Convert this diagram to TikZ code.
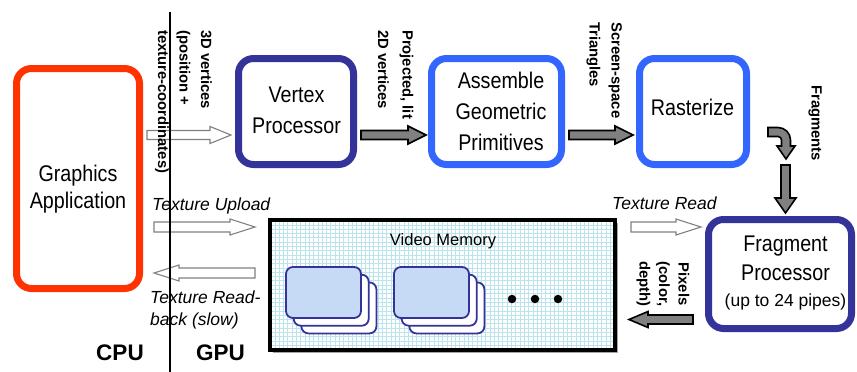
\documentclass[tikz,border=0pt]{standalone}
\usepackage{fontspec}
\setmainfont{Liberation Sans}
\usepackage{graphicx}
\usetikzlibrary{calc,shadows}
\definecolor{appred}{RGB}{255,51,0}
\definecolor{navy}{RGB}{51,51,153}
\definecolor{brightblue}{RGB}{51,102,255}
\definecolor{arrowgray}{RGB}{128,128,128}
\definecolor{gridcol}{RGB}{188,228,236}
\definecolor{cardfill}{RGB}{198,218,246}
% block arrow: #1 style, #2 start, #3 tip, #4 shaft half width, #5 head half width, #6 head length
\newcommand\blockarrow[6]{%
  \coordinate (ba-s) at #2;
  \coordinate (ba-t) at #3;
  \coordinate (ba-b) at ($(ba-t)!#6!(ba-s)$);
  \draw[#1] ($(ba-s)!#4!90:(ba-t)$) -- ($(ba-b)!#4!90:(ba-t)$) -- ($(ba-b)!#5!90:(ba-t)$) -- (ba-t)
     -- ($(ba-b)!#5!-90:(ba-t)$) -- ($(ba-b)!#4!-90:(ba-t)$) -- ($(ba-s)!#4!-90:(ba-t)$) -- cycle;}
\begin{document}
\begin{tikzpicture}[x=1pt,y=-1pt,
  procbox/.style={draw, line width=7pt, rounded corners=15pt, fill=white, inner sep=0pt},
  boxtxt/.style={inner sep=0pt, anchor=base, yscale=1.15},
  rotlbl/.style={inner sep=0pt, rotate=-90, font=\bfseries\fontsize{14.8}{21.5}\selectfont},
  itlbl/.style={inner sep=0pt, anchor=base west, font=\itshape\fontsize{17.5}{22}\selectfont},
  sidelbl/.style={inner sep=0pt, anchor=base, font=\bfseries\fontsize{22.5}{26}\selectfont},
  grayarrow/.style={draw=black, fill=arrowgray, line width=1.6pt, line join=miter},
  hollowarrow/.style={draw=arrowgray, fill=white, line width=1.1pt, line join=miter},
  card/.style={draw=navy, line width=1.8pt, rounded corners=7pt, minimum width=75pt, minimum height=51pt, inner sep=0pt},
  dot/.style={circle, fill=black, inner sep=0pt, minimum size=8.5pt}]
\useasboundingbox (0,0) rectangle (857,372);

% ---------- boxes ----------
\node[procbox, draw=appred, minimum width=123pt, minimum height=220pt] (app) at (78,178.5) {};
\node[procbox, draw=navy, minimum width=115pt, minimum height=106pt] (vp) at (296,111.5) {};
\node[procbox, draw=brightblue, minimum width=130pt, minimum height=106pt] (agp) at (496.5,111.5) {};
\node[procbox, draw=brightblue, minimum width=107pt, minimum height=106pt] (rast) at (693,111.5) {};
\node[procbox, draw=navy, minimum width=143pt, minimum height=109pt] (fp) at (780,274) {};

% box texts
\node[boxtxt, font=\fontsize{19.7}{23.5}\selectfont] (appT) at (78,181)
  {\begin{tabular}[t]{@{}c@{}}Graphics\\Application\end{tabular}};
\node[boxtxt, font=\fontsize{19.7}{27}\selectfont] (vpT) at (296.5,102)
  {\begin{tabular}[t]{@{}c@{}}Vertex\\Processor\end{tabular}};
\node[boxtxt, font=\fontsize{19.7}{27}\selectfont] (agpT) at (501,88)
  {\begin{tabular}[t]{@{}c@{}}Assemble\\Geometric\\Primitives\end{tabular}};
\node[boxtxt, font=\fontsize{19.7}{23.5}\selectfont] (rastT) at (692.5,115) {Rasterize};
\node[boxtxt, font=\fontsize{19.7}{26}\selectfont] (fpT) at (785.5,251)
  {\begin{tabular}[t]{@{}c@{}}Fragment\\Processor\\[-3.4pt]{\fontsize{17.5}{20}\selectfont\scalebox{1}[0.87]{(up to 24 pipes)}}\end{tabular}};

% ---------- video memory ----------
\node[draw=black, line width=4pt, minimum width=345pt, minimum height=130pt, inner sep=0pt,
      fill=white, drop shadow={shadow xshift=2.5pt, shadow yshift=-2.5pt, fill=black!35, opacity=1},
      path picture={\draw[gridcol, line width=0.55pt, step=4.3pt]
        (path picture bounding box.south west) grid (path picture bounding box.north east);}]
  (vm) at (442.5,285) {};
\node[inner sep=0pt, anchor=base, font=\fontsize{16.5}{20}\selectfont] (vmT) at (443,245.5) {Video Memory};

% stacked cards
\node[card, fill=white] (c13) at (338.9,307.9) {};
\node[card, fill=white] (c12) at (331.2,300.2) {};
\node[card, fill=cardfill] (c11) at (323.5,292.5) {};
\node[card, fill=white] (c23) at (446.9,307.9) {};
\node[card, fill=white] (c22) at (439.2,300.2) {};
\node[card, fill=cardfill] (c21) at (431.5,292.5) {};
\node[dot] (d1) at (512,299) {};
\node[dot] (d2) at (535,299) {};
\node[dot] (d3) at (558,299) {};

% ---------- arrows ----------
\blockarrow{hollowarrow}{($(app.east)+(4,-43.5)$)}{($(vp.west)+(-4,23.5)$)}{4.5pt}{8.5pt}{21pt}
\blockarrow{grayarrow}{($(vp.east)+(4,23.5)$)}{($(agp.west)+(-2,23.5)$)}{4.5pt}{9pt}{18pt}
\blockarrow{grayarrow}{($(agp.east)+(4,23.5)$)}{($(rast.west)+(-3,23.5)$)}{4.5pt}{9pt}{18pt}
\blockarrow{hollowarrow}{($(app.east)+(11,48.5)$)}{($(vm.west)+(-13,-58)$)}{5pt}{8pt}{25pt}
\blockarrow{hollowarrow}{($(vm.west)+(-13,-12)$)}{($(app.east)+(11,94.5)$)}{5pt}{8pt}{25pt}
\blockarrow{hollowarrow}{($(vm.east)+(14,-58)$)}{($(fp.west)+(-4,-47)$)}{5pt}{8pt}{25pt}
\blockarrow{grayarrow}{($(fp.west)+(-12,45.5)$)}{($(vm.east)+(12,34.5)$)}{4.5pt}{8pt}{19pt}
% curved fragments arrow
\coordinate (fr0) at ($(rast.east)+(18,20.5)$);
\draw[grayarrow] ($(fr0)+(0,-4.5)$) -- ++(10,0) arc[start angle=90, end angle=0, radius=12.5pt]
  -- ++(0,6) -- ++(4.5,0) -- ++(-9,13) -- ++(-9,-13) -- ++(4.5,0) -- ++(0,-6)
  arc[start angle=0, end angle=90, radius=3.5pt] -- ++(-10,0) -- cycle;
\blockarrow{grayarrow}{($(fp.north)+(5.5,-51)$)}{($(fp.north)+(5.5,-3)$)}{4.5pt}{10.5pt}{15pt}

% ---------- labels ----------
\node[rotlbl, anchor=base west] (lblA) at (201,30)
  {\begin{tabular}[t]{@{}l@{}}3D vertices\\(position +\\texture-coordinates)\end{tabular}};
\node[rotlbl, anchor=base west, font=\bfseries\fontsize{14.8}{24.5}\selectfont] (lblB) at (402.5,30)
  {\begin{tabular}[t]{@{}l@{}}Projected, lit\\2D vertices\end{tabular}};
\node[rotlbl, anchor=base west, font=\bfseries\fontsize{14.8}{22}\selectfont] (lblC) at (611.5,22)
  {\begin{tabular}[t]{@{}l@{}}Screen-space\\Triangles\end{tabular}};
\node[rotlbl, anchor=base west] (lblD) at (811.5,85) {Fragments};
\node[rotlbl, anchor=base, font=\bfseries\fontsize{14.8}{19.5}\selectfont] (lblE) at (678.5,284)
  {\begin{tabular}[t]{@{}c@{}}Pixels\\(color,\\depth)\end{tabular}};

\node[itlbl] (lblUp) at (152,210) {Texture Upload};
\node[itlbl] (lblRb) at (150,303) {\begin{tabular}[t]{@{}l@{}}Texture Read-\\back (slow)\end{tabular}};
\node[itlbl] (lblRd) at (612,209) {Texture Read};

% ---------- CPU / GPU divider ----------
\coordinate (divTop) at (170,12);
\coordinate (divBot) at (170,372);
\draw[black, line width=1.2pt] (divTop) -- (divBot);
\node[sidelbl] (cpu) at (120,360) {CPU};
\node[sidelbl] (gpu) at (220.5,360) {GPU};
\end{tikzpicture}
\end{document}
